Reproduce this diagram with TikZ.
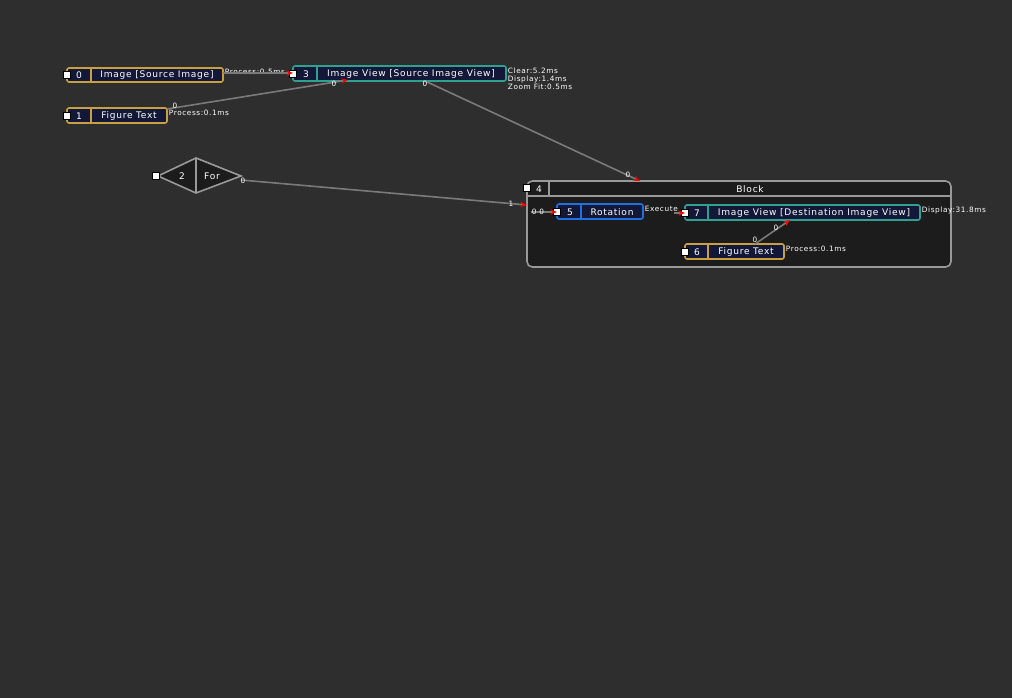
\documentclass[tikz,border=0pt]{standalone}
\usepackage{fontspec}
\setmainfont{DejaVu Sans}[LetterSpace=8]
\usetikzlibrary{arrows.meta}
\definecolor{bg}{HTML}{2D2E2D}
\definecolor{navy}{HTML}{141838}
\definecolor{org}{HTML}{C8A040}
\definecolor{teal}{HTML}{30A090}
\definecolor{blu}{HTML}{2070E0}
\definecolor{blk}{HTML}{1C1C1C}
\definecolor{edg}{HTML}{7A7A7A}
\tikzset{
 x=0.75pt,y=-0.75pt,
 lbl/.style={font=\fontsize{5.5}{6}\selectfont,text=white,inner sep=0.5pt},
 txt/.style={font=\fontsize{6.8}{7}\selectfont,text=white,inner sep=0pt},
 ico/.style={fill=white,draw=black,line width=0.3pt,minimum size=5pt,inner sep=0pt},
 conn/.style={draw=edg,line width=1.2pt},
 arr/.style={conn,-{Stealth[red,length=5pt,width=4pt]}},
}
\newcommand{\opbox}[8]{% name, x1,y1,x2,y2, divider, color, num/label
 \draw[#7,fill=navy,line width=1.2pt,rounded corners=1.5pt] (#2,#3) rectangle (#4,#5);
 \draw[#7,line width=1.2pt] (#6,#3) -- (#6,#5);
 \node[ico] at (#2,{(#3+#5)/2}) {};
 \coordinate (#1) at (#2,#3);
 #8}
\begin{document}
\begin{tikzpicture}
\fill[bg] (0,0) rectangle (1012,698);
\useasboundingbox (0,0) rectangle (1012,698);
% block 4
\draw[gray!80,fill=blk,line width=1.2pt,rounded corners=4pt] (527,181) rectangle (951,267);
\draw[gray!80,line width=1.2pt] (527,196) -- (951,196) (549,181) -- (549,196);
\node[ico] at (527,188) {};
\node[txt] at (539,189) {4};
\node[txt] at (750,189) {Block};
\coordinate (b4top) at (637,181);
\coordinate (b4left) at (527,205);
\coordinate (b4in) at (531,212);
\opbox{n0}{67}{68}{223}{82}{91}{org}{\node[txt] at (79,75){0};\node[txt] at (157,75){Image [Source Image]};}
\opbox{n1}{67}{108}{167}{123}{91}{org}{\node[txt] at (79,116){1};\node[txt] at (129,116){Figure Text};}
\opbox{n3}{293}{66}{506}{81}{317}{teal}{\node[txt] at (306,74){3};\node[txt] at (411,74){Image View [Source Image View]};}
\opbox{n5}{557}{204}{643}{219}{581}{blu}{\node[txt] at (570,212){5};\node[txt] at (612,212){Rotation};}
\opbox{n7}{685}{205}{920}{220}{708}{teal}{\node[txt] at (697,213){7};\node[txt] at (814,213){Image View [Destination Image View]};}
\opbox{n6}{685}{244}{784}{259}{708}{org}{\node[txt] at (697,252){6};\node[txt] at (746,252){Figure Text};}
% diamond 2
\draw[gray!80,fill=blk,line width=1.2pt] (158,176) -- (196,158) -- (241,176) -- (196,193) -- cycle;
\draw[gray!80,line width=1.2pt] (196,158) -- (196,193);
\node[ico] at (156,176) {};
\node[txt] at (182,176) {2};
\node[txt] at (212,176) {For};
\coordinate (n2r) at (241,180);
% side labels
\node[lbl,anchor=west] at (224,72) {Process:0.5ms};
\node[lbl,anchor=north west] at (168,109) {Process:0.1ms};
\node[lbl,anchor=north west,align=left] at (507,67) {Clear:5.2ms\\Display:1.4ms\\Zoom Fit:0.5ms};
\node[lbl,anchor=west] at (921,210) {Display:31.8ms};
\node[lbl,anchor=west] at (785,249) {Process:0.1ms};
\node[lbl,anchor=west] at (644,209) {Execute};
% connectors
\draw[arr] (223,73) -- (293,73);
\draw[arr] (167,109) -- (348,80);
\node[lbl] at (175,106) {0};
\node[lbl] at (334,84) {0};
\draw[arr] (425,81) -- (640,181);
\node[lbl] at (425,84) {0};
\node[lbl] at (628,175) {0};
\draw[arr] (n2r) -- (b4left);
\node[lbl] at (243,181) {0};
\node[lbl] at (511,204) {1};
\draw[arr] (b4in) -- (557,212);
\node[lbl] at (538,212) {0 0};
\draw[arr] (674,213) -- (685,213);
\draw[arr] (755,244) -- (790,220);
\node[lbl] at (755,240) {0};
\node[lbl] at (776,228) {0};
\end{tikzpicture}
\end{document}
